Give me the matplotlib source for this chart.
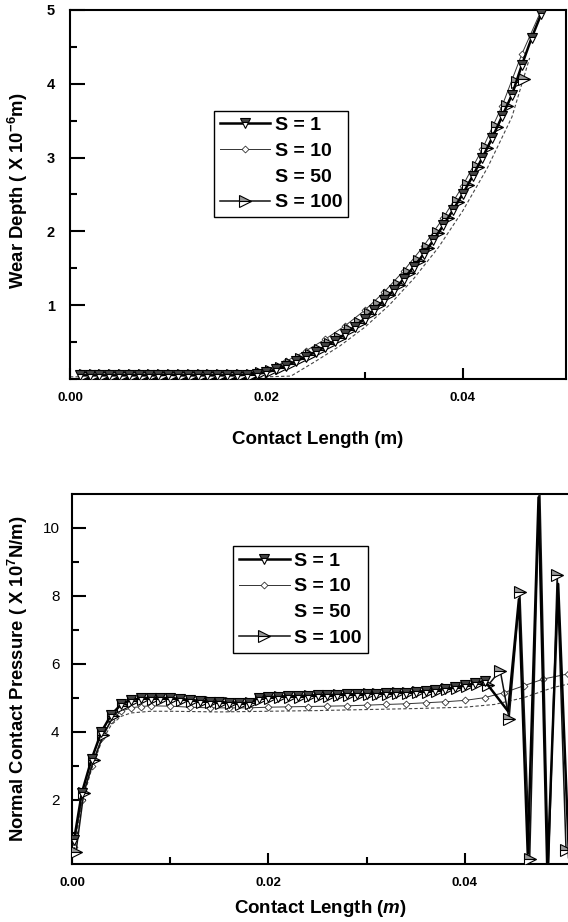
import matplotlib as mpl
import matplotlib.pyplot as plt
from matplotlib.ticker import MultipleLocator, FixedLocator

mpl.rcParams.update({
    "font.family": ["Liberation Sans", "DejaVu Sans"],
    "mathtext.fontset": "custom",
    "mathtext.rm": "Liberation Sans:bold",
    "mathtext.it": "Liberation Sans:bold:italic",
    "mathtext.default": "regular",
})

# ---- top panel: wear depth (x 1e-6 m) vs contact length (m)
wear_x_s1 = [0.001, 0.002, 0.003, 0.004, 0.005, 0.006, 0.007, 0.008, 0.009, 0.010,
             0.011, 0.012, 0.013, 0.014, 0.015, 0.016, 0.017, 0.018, 0.019, 0.020,
             0.021, 0.022, 0.023, 0.024, 0.025, 0.026, 0.027, 0.028, 0.029, 0.030,
             0.031, 0.032, 0.033, 0.034, 0.035, 0.036, 0.037, 0.038, 0.039, 0.040,
             0.041, 0.042, 0.043, 0.044, 0.045, 0.046, 0.047, 0.048]
wear_s1 = [0.05, 0.05, 0.05, 0.05, 0.05, 0.05, 0.05, 0.05, 0.05, 0.06,
           0.05, 0.05, 0.05, 0.05, 0.05, 0.05, 0.05, 0.06, 0.07, 0.09,
           0.13, 0.18, 0.24, 0.30, 0.37, 0.44, 0.52, 0.61, 0.71, 0.82,
           0.94, 1.07, 1.21, 1.36, 1.52, 1.69, 1.88, 2.08, 2.29, 2.51,
           2.75, 3.00, 3.27, 3.56, 3.85, 4.25, 4.62, 4.95]

wear_x_s10 = [0.002, 0.004, 0.006, 0.008, 0.010, 0.012, 0.014, 0.016, 0.018, 0.020,
              0.022, 0.024, 0.026, 0.028, 0.030, 0.032, 0.034, 0.036, 0.038, 0.040,
              0.042, 0.044, 0.046, 0.048]
wear_s10 = [0.06, 0.06, 0.06, 0.06, 0.07, 0.06, 0.06, 0.06, 0.07, 0.11,
            0.24, 0.38, 0.54, 0.72, 0.93, 1.18, 1.47, 1.80, 2.18, 2.62,
            3.12, 3.70, 4.40, 5.00]

wear_x_s50 = [0.000, 0.010, 0.020, 0.0225, 0.025, 0.0275, 0.030, 0.0325, 0.035,
              0.0375, 0.040, 0.0425, 0.045, 0.0468]
wear_s50 = [0.03, 0.03, 0.03, 0.04, 0.24, 0.45, 0.70, 1.00, 1.36,
            1.78, 2.28, 2.86, 3.55, 4.35]

wear_x_s100 = [0.0015, 0.0025, 0.0035, 0.0045, 0.0055, 0.0065, 0.0075, 0.0085, 0.0095, 0.0105,
               0.0115, 0.0125, 0.0135, 0.0145, 0.0155, 0.0165, 0.0175, 0.0185, 0.0195, 0.0205,
               0.0215, 0.0225, 0.0235, 0.0245, 0.0255, 0.0265, 0.0275, 0.0285, 0.0295, 0.0305,
               0.0315, 0.0325, 0.0335, 0.0345, 0.0355, 0.0365, 0.0375, 0.0385, 0.0395, 0.0405,
               0.0415, 0.0425, 0.0435, 0.0445, 0.0455, 0.0462]
wear_s100 = [0.05, 0.05, 0.05, 0.05, 0.05, 0.05, 0.05, 0.05, 0.05, 0.05,
             0.05, 0.05, 0.05, 0.05, 0.05, 0.05, 0.05, 0.06, 0.08, 0.11,
             0.15, 0.21, 0.27, 0.33, 0.40, 0.48, 0.56, 0.66, 0.76, 0.88,
             1.00, 1.14, 1.28, 1.44, 1.60, 1.78, 1.98, 2.18, 2.40, 2.63,
             2.87, 3.13, 3.41, 3.70, 4.02, 4.06]

# ---- bottom panel: normal contact pressure (x 1e7 N/m) vs contact length (m)
pres_x_s1 = [0.0002, 0.001, 0.002, 0.003, 0.004, 0.005, 0.006, 0.007, 0.008, 0.009,
             0.010, 0.011, 0.012, 0.013, 0.014, 0.015, 0.016, 0.017, 0.018, 0.019,
             0.020, 0.021, 0.022, 0.023, 0.024, 0.025, 0.026, 0.027, 0.028, 0.029,
             0.030, 0.031, 0.032, 0.033, 0.034, 0.035, 0.036, 0.037, 0.038, 0.039,
             0.040, 0.041, 0.042, 0.0444, 0.0455, 0.0464, 0.0475, 0.0484, 0.0495, 0.0506]
pres_s1 = [0.8, 2.2, 3.2, 4.0, 4.5, 4.8, 4.93, 4.98, 5.0, 5.0,
           4.98, 4.95, 4.92, 4.9, 4.88, 4.86, 4.85, 4.84, 4.85, 5.0,
           5.02, 5.03, 5.04, 5.05, 5.06, 5.07, 5.08, 5.09, 5.1, 5.1,
           5.11, 5.12, 5.13, 5.14, 5.15, 5.17, 5.19, 5.22, 5.26, 5.3,
           5.36, 5.42, 5.5, 4.6, 7.9, 0.4, 10.9, -0.2, 8.35, 0.3]

pres_x_s10 = [0.0002, 0.001, 0.002, 0.003, 0.004, 0.005, 0.006, 0.007, 0.008, 0.010,
              0.012, 0.014, 0.016, 0.018, 0.020, 0.022, 0.024, 0.026, 0.028, 0.030,
              0.032, 0.034, 0.036, 0.038, 0.040, 0.042, 0.044, 0.046, 0.048, 0.0505]
pres_s10 = [0.6, 2.0, 3.0, 3.8, 4.35, 4.6, 4.7, 4.74, 4.76, 4.75,
            4.72, 4.7, 4.7, 4.7, 4.72, 4.73, 4.74, 4.75, 4.76, 4.78,
            4.8, 4.82, 4.85, 4.88, 4.92, 5.0, 5.15, 5.35, 5.55, 5.7]

pres_x_s50 = [0.0002, 0.001, 0.002, 0.003, 0.004, 0.005, 0.006, 0.008, 0.010, 0.015,
              0.020, 0.025, 0.030, 0.035, 0.040, 0.043, 0.046, 0.049, 0.0505]
pres_s50 = [0.5, 1.9, 2.9, 3.7, 4.2, 4.45, 4.55, 4.6, 4.6, 4.58,
            4.6, 4.62, 4.65, 4.68, 4.72, 4.8, 5.0, 5.3, 5.4]

pres_x_s100 = [0.0004, 0.0012, 0.0022, 0.0032, 0.0042, 0.0052, 0.0062, 0.0072, 0.0082, 0.0092,
               0.0102, 0.0112, 0.0122, 0.0132, 0.0142, 0.0152, 0.0162, 0.0172, 0.0182, 0.0192,
               0.0202, 0.0212, 0.0222, 0.0232, 0.0242, 0.0252, 0.0262, 0.0272, 0.0282, 0.0292,
               0.0302, 0.0312, 0.0322, 0.0332, 0.0342, 0.0352, 0.0362, 0.0372, 0.0382, 0.0392,
               0.0402, 0.0412, 0.0424, 0.0436, 0.0445, 0.0456, 0.0466, 0.0476, 0.0485, 0.0494, 0.0503]
pres_s100 = [0.45, 2.2, 3.15, 3.9, 4.45, 4.75, 4.9, 4.95, 4.97, 4.97,
             4.95, 4.92, 4.9, 4.88, 4.86, 4.84, 4.83, 4.82, 4.83, 4.97,
             5.0, 5.01, 5.02, 5.03, 5.04, 5.05, 5.06, 5.07, 5.08, 5.09,
             5.1, 5.11, 5.12, 5.13, 5.14, 5.16, 5.18, 5.21, 5.25, 5.29,
             5.34, 5.4, 5.38, 5.8, 4.38, 8.1, 0.26, 11.5, -0.2, 8.6, 0.5]

labels = ["S = 1", "S = 10", "S = 50", "S = 100"]

fig = plt.figure(figsize=(5.68, 9.22), dpi=100)
ax1 = fig.add_axes([0.1232, 0.5889, 0.8732, 0.4003])
ax2 = fig.add_axes([0.1268, 0.0629, 0.8732, 0.4013])


def draw(ax, xs, ys, markevery_s1):
    (x1, y1), (x10, y10), (x50, y50), (x100, y100) = zip(xs, ys)
    ax.plot(x10, y10, color="#333333", lw=0.7, marker="D", ms=3.5,
            mfc="white", mec="#333333", mew=0.6, label=labels[1], zorder=2)
    ax.plot(x50, y50, color="#444444", lw=0.8, ls=(0, (3, 2)),
            label=labels[2], zorder=2)
    ax.plot(x100, y100, color="#111111", lw=1.1, marker=">", ms=8,
            fillstyle="top", mfc="#999999", mfcalt="white", mec="black",
            mew=0.8, label=labels[3], zorder=3)
    ax.plot(x1, y1, color="black", lw=1.8, marker="v", ms=7,
            fillstyle="top", mfc="#444444", mfcalt="white", mec="black",
            mew=0.8, markevery=markevery_s1, label=labels[0], zorder=4)


draw(ax1,
     [wear_x_s1, wear_x_s10, wear_x_s50, wear_x_s100],
     [wear_s1, wear_s10, wear_s50, wear_s100],
     None)
draw(ax2,
     [pres_x_s1, pres_x_s10, pres_x_s50, pres_x_s100],
     [pres_s1, pres_s10, pres_s50, pres_s100],
     slice(0, 43))

for ax in (ax1, ax2):
    ax.set_xlim(0.0, 0.0505)
    ax.xaxis.set_major_locator(FixedLocator([0.0, 0.02, 0.04]))
    ax.xaxis.set_minor_locator(FixedLocator([0.01, 0.03]))
    ax.xaxis.set_major_formatter(mpl.ticker.FormatStrFormatter("%.2f"))
    ax.tick_params(which="both", direction="in", top=False, right=False, width=1.5)
    ax.tick_params(axis="x", which="major", length=8, pad=9, labelsize=9.5)
    ax.tick_params(axis="x", which="minor", length=5)
    for lab in ax.get_xticklabels():
        lab.set_fontweight("bold")
    for sp in ax.spines.values():
        sp.set_linewidth(1.5)

ax1.set_ylim(0, 5)
ax1.yaxis.set_major_locator(FixedLocator([1, 2, 3, 4, 5]))
ax1.yaxis.set_minor_locator(MultipleLocator(0.5))
ax1.tick_params(axis="y", which="major", length=11, pad=11, labelsize=10.5)
ax1.tick_params(axis="y", which="minor", length=5)
for lab in ax1.get_yticklabels():
    lab.set_fontweight("bold")
ax1.set_xlabel("Contact Length (m)", fontsize=13.5, fontweight="bold", labelpad=20)
ax1.set_ylabel("Wear Depth ( X 10$^{-6}$m)", fontsize=13.3, fontweight="bold")
ax1.yaxis.set_label_coords(-0.08, 0.51)

ax2.set_ylim(0.1, 11)
ax2.yaxis.set_major_locator(FixedLocator([2, 4, 6, 8, 10]))
ax2.yaxis.set_minor_locator(FixedLocator([1, 3, 5, 7, 9]))
ax2.tick_params(axis="y", which="major", length=10, pad=9, labelsize=11)
ax2.tick_params(axis="y", which="minor", length=5)
ax2.spines["right"].set_visible(False)
ax2.set_xlabel("Contact Length ($\\mathit{m}$)", fontsize=13.5, fontweight="bold", labelpad=7)
ax2.set_ylabel("Normal Contact Pressure ( X 10$^{7}$N/m)", fontsize=13.3, fontweight="bold")
ax2.yaxis.set_label_coords(-0.084, 0.5)

for ax, anchor in ((ax1, (0.29, 0.727)), (ax2, (0.325, 0.859))):
    handles, labs = ax.get_legend_handles_labels()
    order = [labs.index(l) for l in labels]
    leg = ax.legend([handles[i] for i in order], [labs[i] for i in order],
                    loc="upper left", bbox_to_anchor=anchor, frameon=True,
                    fancybox=False, edgecolor="black", framealpha=1,
                    prop={"weight": "bold", "size": 14}, handlelength=2.6,
                    handletextpad=0.25, labelspacing=0.42, borderpad=0.3,
                    borderaxespad=0)
    leg.get_frame().set_linewidth(1.0)
    leg.legend_handles[2].set_visible(False)

fig.savefig("out.png", dpi=100)
